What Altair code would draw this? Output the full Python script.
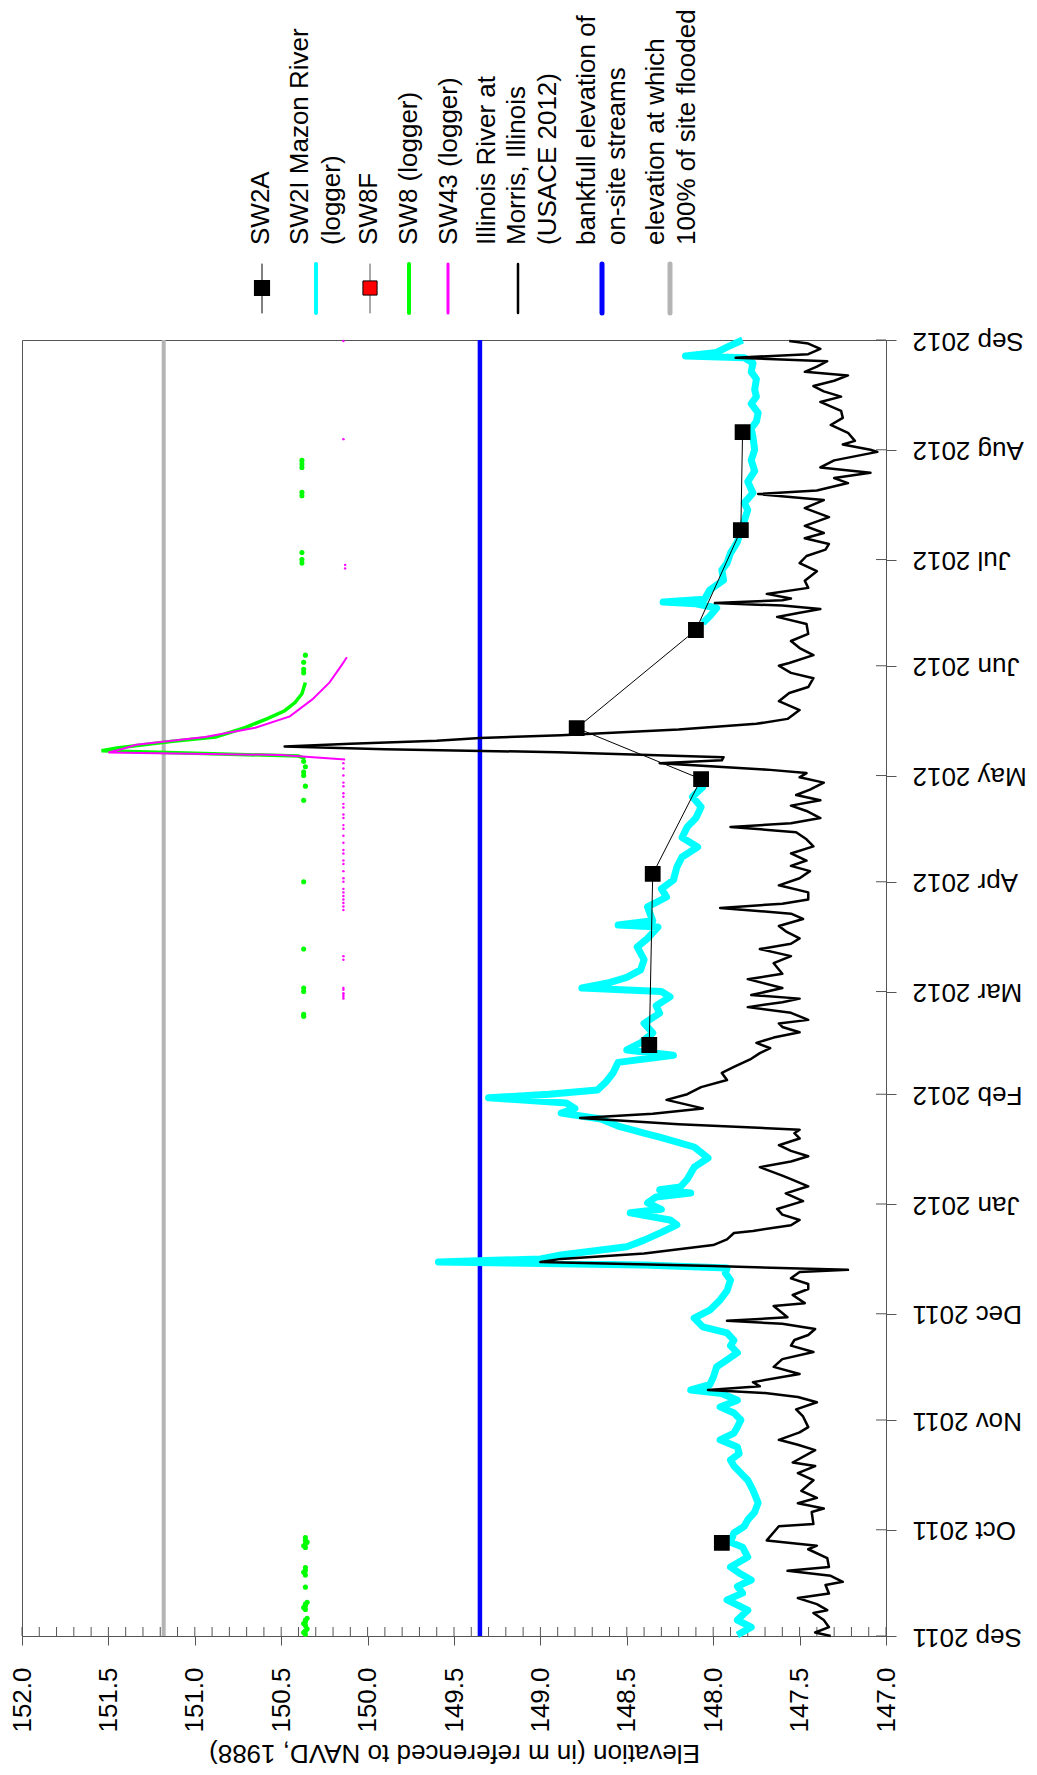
import altair as alt
import pandas as pd

FONT = "Liberation Sans"
START = pd.Timestamp("2011-09-01")

# ---------------- data (day offset from 2011-09-01, elevation in m) ----------------
ill_day = [0.0, 1.0, 2.5, 4.5, 6.5, 7.3, 9.0, 10.7, 12.0, 14.4, 15.3, 17.0, 18.4, 19.5, 22.0, 24.5,
           25.5, 27.0, 31.0, 31.6, 35.0, 36.0, 37.5, 39.0, 41.0, 44.0, 46.0, 48.0, 49.0, 52.5, 54.0,
           55.4, 57.5, 59.0, 62.0, 64.0, 66.0, 67.5, 68.6, 69.5, 70.5, 71.7, 74.0, 76.0, 78.2, 80.2,
           82.0, 83.6, 85.0, 86.7, 88.2, 89.0, 90.0, 93.2, 94.0, 96.3, 98.0, 99.4, 101.0, 102.8,
           103.4, 104.5, 105.6, 106.5, 108.0, 110.4, 112.0, 113.8, 114.4, 116.0, 117.5, 119.0,
           120.6, 122.8, 125.0, 127.0, 129.0, 130.0, 132.4, 134.0, 135.5, 137.0, 138.6, 140.5,
           142.0, 143.0, 144.5, 146.3, 147.5, 149.0, 151.4, 153.0, 155.0, 157.0, 159.0, 160.7,
           163.0, 164.6, 166.0, 167.5, 169.0, 170.5, 172.0, 173.0, 174.0, 176.0, 177.6, 179.0,
           180.0, 181.0, 183.0, 185.5, 187.0, 190.0, 192.0, 194.0, 195.5, 197.0, 199.0, 200.5,
           202.5, 204.0, 205.6, 206.8, 208.0, 210.0, 212.0, 214.0, 216.0, 217.5, 219.0, 221.0,
           223.0, 225.0, 227.0, 228.5, 229.5, 231.0, 233.0, 234.5, 236.0, 237.5, 239.0, 241.0,
           242.5, 243.7, 244.6, 246.5, 247.3, 248.2, 249.6, 250.4, 251.2, 252.0, 252.8, 253.6,
           254.4, 256.0, 257.6, 259.0, 261.5, 264.0, 266.3, 268.0, 270.5, 272.0, 274.0, 274.8,
           277.0, 279.0, 281.0, 283.0, 285.8, 287.8, 289.0, 290.0, 291.0, 291.7, 292.5, 293.0,
           294.3, 296.0, 298.0, 300.7, 303.0, 305.0, 306.8, 308.4, 310.0, 311.5, 313.5, 316.0,
           318.5, 320.8, 322.5, 323.5, 325.6, 327.0, 328.5, 330.0, 332.0, 334.4, 335.0, 336.5,
           337.5, 339.8, 342.0, 344.0, 346.0, 348.5, 350.0, 351.5, 353.0, 354.5, 356.0, 357.0,
           358.5, 360.0, 361.0, 362.0, 363.5, 365.0, 365.7]
ill_elev = [147.32, 147.41, 147.33, 147.36, 147.42, 147.34, 147.40, 147.51, 147.33, 147.35, 147.25,
            147.32, 147.57, 147.33, 147.34, 147.45, 147.40, 147.69, 147.62, 147.42, 147.43, 147.36,
            147.51, 147.40, 147.49, 147.42, 147.51, 147.41, 147.54, 147.41, 147.51, 147.62, 147.50,
            147.45, 147.48, 147.52, 147.40, 147.51, 147.70, 148.03, 147.73, 147.77, 147.50, 147.65,
            147.60, 147.42, 147.55, 147.53, 147.45, 147.41, 147.60, 147.92, 147.57, 147.65, 147.47,
            147.54, 147.45, 147.45, 147.55, 147.50, 147.22, 148.00, 149.00, 148.88, 148.40, 148.00,
            147.92, 147.88, 147.77, 147.55, 147.50, 147.60, 147.63, 147.48, 147.58, 147.45, 147.55,
            147.60, 147.73, 147.55, 147.45, 147.55, 147.62, 147.50, 147.53, 147.50, 148.20, 148.77,
            148.35, 148.06, 148.27, 148.15, 148.07, 147.92, 147.95, 147.88, 147.78, 147.73, 147.67,
            147.75, 147.65, 147.50, 147.60, 147.62, 147.45, 147.55, 147.80, 147.60, 147.50, 147.78,
            147.60, 147.80, 147.60, 147.65, 147.55, 147.73, 147.55, 147.50, 147.58, 147.62, 147.48,
            147.55, 147.96, 147.60, 147.45, 147.45, 147.62, 147.50, 147.44, 147.55, 147.46, 147.55,
            147.42, 147.46, 147.52, 147.90, 147.55, 147.38, 147.46, 147.55, 147.38, 147.52, 147.44,
            147.36, 147.50, 147.46, 147.67, 148.31, 147.95, 147.94, 148.90, 149.90, 150.48, 150.10,
            149.60, 149.35, 148.88, 148.20, 147.75, 147.57, 147.50, 147.62, 147.56, 147.45, 147.42,
            147.55, 147.62, 147.56, 147.42, 147.50, 147.55, 147.45, 147.46, 147.63, 147.50, 147.38,
            147.60, 147.99, 147.60, 147.55, 147.69, 147.45, 147.47, 147.40, 147.50, 147.46, 147.35,
            147.33, 147.47, 147.36, 147.47, 147.33, 147.47, 147.36, 147.74, 147.40, 147.22, 147.30,
            147.09, 147.38, 147.30, 147.05, 147.09, 147.25, 147.18, 147.22, 147.32, 147.25, 147.26,
            147.38, 147.26, 147.36, 147.42, 147.30, 147.22, 147.47, 147.40, 147.34, 147.87, 147.45,
            147.38, 147.45, 147.56]

sw2i_a_day = [0.3, 2.5, 4.5, 7.3, 10.2, 12.1, 14.0, 15.8, 17.5, 19.5, 22.3, 25.1, 26.5, 29.1, 31.0,
              32.8, 35.0, 37.6, 41.2, 44.0, 46.0, 48.0, 49.7, 51.5, 53.4, 55.4, 57.3, 59.0, 61.0,
              63.0, 64.7, 66.6, 68.5, 69.5, 71.0, 73.0, 76.0, 78.0, 80.0, 82.0, 83.5, 85.6, 87.3,
              89.8, 92.0, 94.9, 97.5, 100.5, 102.5, 103.9, 104.8, 105.6, 106.5, 107.6, 109.9, 111.8,
              114.0, 116.1, 117.5, 119.5, 120.5, 122.3, 124.0, 125.1, 126.0, 126.8, 129.0, 132.4,
              135.0, 138.1, 140.9, 142.0, 144.0, 146.0, 147.7, 149.0, 150.5, 152.0, 153.0, 154.2,
              156.5, 159.0, 162.0, 164.0, 165.5, 167.5, 170.3, 173.0, 175.9, 178.0, 180.5, 182.0,
              183.0, 184.4, 186.0, 188.1, 191.0, 194.6, 197.0, 200.2, 200.8, 202.0, 205.9, 208.7,
              211.0, 213.5, 217.2, 220.0, 222.8, 225.5, 228.5, 231.0, 234.1, 237.0, 239.8, 242.5]
sw2i_a_elev = [147.86, 147.78, 147.86, 147.80, 147.92, 147.83, 147.86, 147.78, 147.84, 147.90, 147.80,
               147.83, 147.90, 147.88, 147.82, 147.80, 147.76, 147.74, 147.77, 147.80, 147.84, 147.88,
               147.90, 147.85, 147.86, 147.96, 147.88, 147.86, 147.84, 147.88, 147.96, 147.86, 147.95,
               148.13, 148.02, 148.00, 147.98, 147.92, 147.86, 147.90, 147.88, 147.92, 148.06, 148.11,
               148.02, 147.96, 147.92, 147.90, 147.93, 147.92, 148.40, 149.59, 149.00, 148.88, 148.50,
               148.40, 148.30, 148.21, 148.25, 148.48, 148.30, 148.38, 148.33, 148.13, 148.31, 148.19,
               148.15, 148.11, 148.03, 148.11, 148.31, 148.40, 148.55, 148.65, 148.88, 148.80, 148.85,
               149.30, 148.95, 148.67, 148.62, 148.58, 148.55, 148.23, 148.50, 148.42, 148.35, 148.40,
               148.31, 148.33, 148.25, 148.30, 148.76, 148.61, 148.50, 148.42, 148.40, 148.44, 148.38,
               148.32, 148.55, 148.35, 148.38, 148.27, 148.30, 148.23, 148.21, 148.18, 148.09, 148.18,
               148.15, 148.10, 148.07, 148.12, 148.06, 148.07]
sw2i_b_day = [286.1, 288.0, 290.3, 291.5, 292.0, 292.8, 295.4, 298.2, 301.0, 303.0, 305.8, 309.0,
              312.3, 315.0, 318.0, 320.0, 322.8, 326.0, 329.0, 332.0, 335.0, 338.6, 341.0, 343.0,
              345.4, 348.0, 350.0, 352.0, 355.0, 357.0, 359.5, 361.0, 361.5, 362.5, 364.0, 366.0]
sw2i_b_elev = [148.06, 148.02, 147.98, 148.10, 148.29, 148.05, 148.02, 147.94, 147.95, 147.92, 147.90,
               147.86, 147.84, 147.82, 147.80, 147.82, 147.77, 147.80, 147.76, 147.78, 147.76, 147.77,
               147.78, 147.75, 147.74, 147.78, 147.75, 147.76, 147.75, 147.78, 147.77, 147.82, 148.16,
               147.98, 147.92, 147.83]

sw2a_day = [26.3, 166.9, 215.2, 242.0, 256.4, 284.1, 312.3, 340.0]
sw2a_elev = [147.95, 148.37, 148.35, 148.07, 148.79, 148.10, 147.84, 147.83]
sw2a_seg = [0, 1, 1, 1, 1, 1, 1, 1]

sw8_pt_day = [0.5, 1.0, 1.5, 2.0, 3.0, 3.5, 4.0, 4.5, 5.0, 7.5, 8.0, 8.5, 9.0, 9.5, 13.8, 17.2, 18.0,
              18.5, 19.3, 25.0, 25.5, 26.0, 26.5, 27.0, 27.8, 175.0, 175.6, 182.0, 183.0, 194.0,
              213.0, 236.0, 240.0, 243.0, 244.0, 245.5, 247.0, 272.0, 273.0, 275.0, 277.0, 303.0,
              304.0, 306.0, 322.0, 323.0, 330.0, 331.0, 332.0]
sw8_pt_elev = [150.36, 150.37, 150.36, 150.35, 150.36, 150.37, 150.36, 150.36, 150.35, 150.36, 150.37,
               150.36, 150.36, 150.35, 150.36, 150.36, 150.37, 150.36, 150.36, 150.36, 150.37, 150.36,
               150.35, 150.36, 150.36, 150.37, 150.37, 150.37, 150.37, 150.37, 150.37, 150.37, 150.36,
               150.37, 150.37, 150.36, 150.37, 150.37, 150.37, 150.37, 150.36, 150.38, 150.38, 150.38,
               150.38, 150.38, 150.38, 150.38, 150.38]
sw8_fl_day = [247.8, 248.5, 249.3, 250.0, 250.8, 252.6, 253.9, 256.5, 259.1, 261.3, 263.6, 266.1, 269.3]
sw8_fl_elev = [150.36, 150.40, 151.00, 151.54, 151.45, 151.14, 150.88, 150.71, 150.58, 150.48, 150.42,
               150.38, 150.36]

sw43_pt_day = [180.0, 180.5, 181.0, 181.5, 182.5, 183.0, 191.0, 192.0, 205.0, 206.0, 207.0, 208.0,
               209.0, 210.0, 211.0, 213.0, 214.0, 216.0, 218.0, 219.0, 221.0, 222.0, 224.0, 226.0,
               228.0, 229.0, 231.0, 232.0, 234.0, 235.0, 237.0, 238.0, 240.0, 241.0, 243.0, 245.0,
               246.5, 301.5, 302.5, 338.0, 365.7]
sw43_pt_elev = [150.14] * 37 + [150.13, 150.13, 150.14, 150.14]
sw43_fl_day = [247.5, 248.8, 249.5, 250.5, 251.7, 253.9, 256.5, 259.7, 264.5, 269.3, 274.2, 276.4]
sw43_fl_elev = [150.13, 150.50, 151.50, 151.42, 151.34, 150.94, 150.65, 150.45, 150.32, 150.22,
                150.15, 150.12]

bankfull_elev = [149.35]
flooded_elev = [151.18]

elev_ticks = [147.0, 147.5, 148.0, 148.5, 149.0, 149.5, 150.0, 150.5, 151.0, 151.5, 152.0]
minor_ticks = [round(147.0 + 0.1 * i, 1) for i in range(51)]
month_list = [(2011, 9), (2011, 10), (2011, 11), (2011, 12), (2012, 1), (2012, 2), (2012, 3),
              (2012, 4), (2012, 5), (2012, 6), (2012, 7), (2012, 8), (2012, 9)]


def to_dates(days):
    return [START + pd.Timedelta(days=float(d)) for d in days]


def frame(days, elev, **extra):
    d = {"date": to_dates(days), "elev": elev, "day": days}
    d.update(extra)
    return pd.DataFrame(d)


# ---------------- scales / axes ----------------
AX = "#555555"
xs = alt.Scale(domain=[147, 152], reverse=True, zero=False, nice=False)
ys = alt.Scale(domain=[alt.DateTime(year=2011, month=9, date=1),
                       alt.DateTime(year=2012, month=9, date=1)], nice=False)
xaxis = alt.Axis(values=elev_ticks, format=".1f", labelAngle=270, labelAlign="right",
                 labelBaseline="middle", labelPadding=22, tickSize=9, tickColor=AX, domainColor=AX,
                 labelFontSize=26, labelFont=FONT, labelColor="black", labelFlush=False,
                 labelOverlap=False, grid=False,
                 title="Elevation (in m referenced to NAVD, 1988)", titleAngle=180, titleFontSize=26,
                 titleFont=FONT, titleFontWeight="normal", titleColor="black", titleX=432,
                 titleY=116, titleAlign="center", titleBaseline="middle")
yaxis = alt.Axis(orient="right", values=[alt.DateTime(year=y, month=m, date=1) for y, m in month_list],
                 format="%b %Y", labelAngle=180, labelAlign="right", labelBaseline="middle",
                 labelPadding=16, tickSize=10, tickColor=AX, domainColor=AX, labelFontSize=26,
                 labelFont=FONT, labelColor="black", labelFlush=False, labelOverlap=False,
                 grid=False, title="")


def X(field="elev"):
    return alt.X(f"{field}:Q", scale=xs, axis=xaxis)


def Y(field="date"):
    return alt.Y(f"{field}:T", scale=ys, axis=yaxis)


layers = []

# inner tick marks (elevation axis, every 0.1)
layers.append(alt.Chart(pd.DataFrame({"v": minor_ticks})).mark_rule(color=AX, strokeWidth=1).encode(
    x=X("v"), y=alt.value(1287), y2=alt.value(1296)))
# inner tick marks (date axis)
mdf = pd.DataFrame({"date": [pd.Timestamp(year=y, month=m, day=1) for y, m in month_list]})
layers.append(alt.Chart(mdf).mark_rule(color=AX, strokeWidth=1).encode(
    y=Y(), x=alt.value(854), x2=alt.value(864)))

# reference lines
layers.append(alt.Chart(pd.DataFrame({"elev": flooded_elev})).mark_rule(
    color="#b4b4b4", strokeWidth=4).encode(x=X()))
layers.append(alt.Chart(pd.DataFrame({"elev": bankfull_elev})).mark_rule(
    color="#0000ff", strokeWidth=4.5).encode(x=X()))

# SW2I Mazon River (logger)
cy = pd.concat([frame(sw2i_a_day, sw2i_a_elev, seg=0), frame(sw2i_b_day, sw2i_b_elev, seg=1)])
layers.append(alt.Chart(cy).mark_line(color="#00ffff", strokeWidth=7, strokeJoin="round").encode(
    x=X(), y=Y(), detail="seg:N", order="day:Q"))

# Illinois River at Morris
layers.append(alt.Chart(frame(ill_day, ill_elev)).mark_line(
    color="black", strokeWidth=2.5, strokeJoin="round").encode(x=X(), y=Y(), order="day:Q"))

# SW8 logger
layers.append(alt.Chart(frame(sw8_fl_day, sw8_fl_elev)).mark_line(
    color="#00ff00", strokeWidth=3.5).encode(x=X(), y=Y(), order="day:Q"))
layers.append(alt.Chart(frame(sw8_pt_day, sw8_pt_elev)).mark_circle(
    color="#00ff00", size=26, opacity=1).encode(x=X(), y=Y()))

# SW43 logger
layers.append(alt.Chart(frame(sw43_fl_day, sw43_fl_elev)).mark_line(
    color="#ff00ff", strokeWidth=2).encode(x=X(), y=Y(), order="day:Q"))
layers.append(alt.Chart(frame(sw43_pt_day, sw43_pt_elev)).mark_circle(
    color="#ff00ff", size=6, opacity=1).encode(x=X(), y=Y()))

# SW2A
sw2a = frame(sw2a_day, sw2a_elev, seg=sw2a_seg)
layers.append(alt.Chart(sw2a).mark_line(color="black", strokeWidth=1).encode(
    x=X(), y=Y(), detail="seg:N", order="day:Q"))
layers.append(alt.Chart(sw2a).mark_point(shape="square", filled=True, fill="black", stroke="black",
                                         size=190, opacity=1).encode(x=X(), y=Y()))

# ---------------- manual rotated legend ----------------
one = pd.DataFrame({"k": [0]})


def leg_rule(xp, color, width):
    return alt.Chart(one).mark_rule(color=color, strokeWidth=width, strokeCap="round").encode(
        x=alt.value(xp), y=alt.value(-76), y2=alt.value(-27))


def leg_text(xp, txt):
    return alt.Chart(one).mark_text(text=txt, angle=270, align="left", baseline="middle",
                                    fontSize=26, font=FONT, color="black").encode(
        x=alt.value(xp), y=alt.value(-95))


layers += [
    leg_rule(240, "black", 1),
    alt.Chart(one).mark_point(shape="square", filled=True, fill="black", stroke="black",
                              size=200, opacity=1).encode(x=alt.value(240), y=alt.value(-52)),
    leg_rule(294, "#00ffff", 4),
    leg_rule(348, "#555555", 1),
    alt.Chart(one).mark_point(shape="square", filled=True, fill="#ff0000", stroke="black",
                              strokeWidth=1, size=200, opacity=1).encode(x=alt.value(348), y=alt.value(-52)),
    leg_rule(387, "#00ff00", 4),
    leg_rule(426, "#ff00ff", 3),
    leg_rule(496, "black", 2.5),
    leg_rule(580, "#0000ff", 5),
    leg_rule(648, "#b4b4b4", 5),
    leg_text(239, "SW2A"),
    leg_text(278, "SW2I Mazon River"),
    leg_text(310, "(logger)"),
    leg_text(347, "SW8F"),
    leg_text(387, "SW8 (logger)"),
    leg_text(427, "SW43 (logger)"),
    leg_text(465, "Illinois River at"),
    leg_text(495, "Morris, Illinois"),
    leg_text(526, "(USACE 2012)"),
    leg_text(565, "bankfull elevation of"),
    leg_text(595, "on-site streams"),
    leg_text(634, "elevation at which"),
    leg_text(665, "100% of site flooded"),
]

chart = alt.layer(*layers).properties(
    width=864, height=1296,
    padding={"left": 14, "top": 332, "right": 140, "bottom": 136},
    autosize=alt.AutoSizeParams(type="none"),
).configure_view(stroke=AX, strokeWidth=1)

chart.save("out.html", embed_options={"renderer": "svg", "actions": False})
